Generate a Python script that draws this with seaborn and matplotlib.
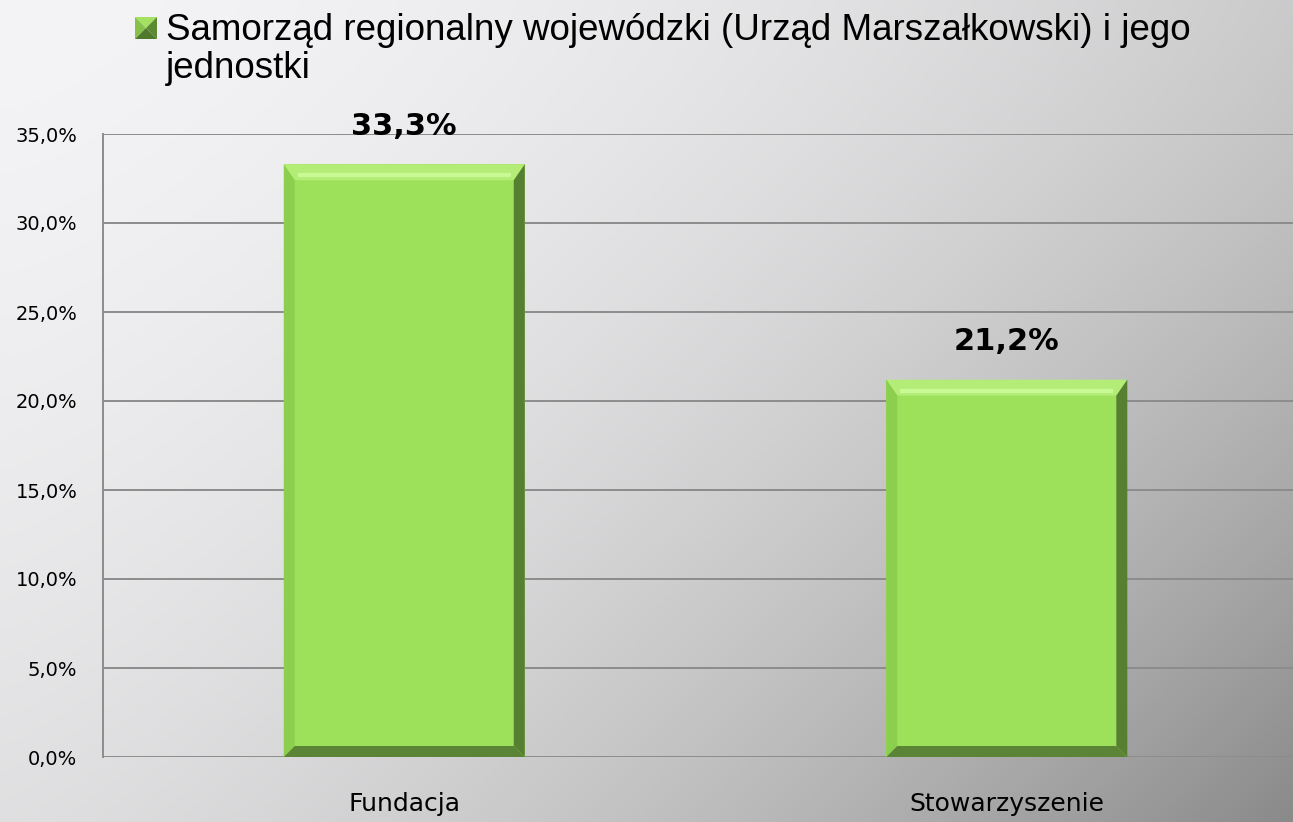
import numpy as np
import pandas as pd
import seaborn as sns
import matplotlib.pyplot as plt
from matplotlib.patches import Polygon
from matplotlib.ticker import FuncFormatter

categories = ['Fundacja', 'Stowarzyszenie']
values = [33.3, 21.2]
legend_label = 'Samorząd regionalny wojewódzki (Urząd Marszałkowski) i jego\njednostki'

df = pd.DataFrame({'typ': categories, 'udzial': values})

sns.set_style('white')
plt.rcParams['font.family'] = ['DejaVu Sans']

W, H = 1293, 822
fig = plt.figure(figsize=(W / 100, H / 100), dpi=100)

# gradient background: light top-left, grey towards bottom-right
bg = fig.add_axes([0, 0, 1, 1], zorder=-10)
xx, yy = np.meshgrid(np.linspace(0, 1, 500), np.linspace(0, 1, 320))
f = 0.40 * xx ** 1.8 + 0.20 * yy ** 1.5 + 0.42 * (xx * yy) ** 1.2
shade = (244 - 104 * f) / 255
bg.imshow(np.dstack([shade, shade, shade + 2 / 255 * (1 - f)]).clip(0, 1),
          aspect='auto', extent=[0, 1, 0, 1], origin='upper')
bg.axis('off')

ax = fig.add_axes([103 / W, 65 / H, (W - 103) / W, 623 / H])
ax.patch.set_alpha(0)
sns.barplot(data=df, x='typ', y='udzial', color='#9de05a', width=0.4,
            saturation=1, linewidth=0, edgecolor='none', ax=ax, zorder=3)

ax.set_ylim(0, 35)
ax.set_xlim(-0.5, 1.475)
ax.set_yticks(np.arange(0, 36, 5))
ax.yaxis.set_major_formatter(FuncFormatter(lambda v, p: f'{v:.1f}%'.replace('.', ',')))
ax.grid(axis='y', color='#8c8c8c', linewidth=1.4, zorder=0)
ax.set_axisbelow(True)
for s in ['top', 'right', 'bottom']:
    ax.spines[s].set_visible(False)
ax.spines['left'].set_color('#8c8c8c')
ax.spines['left'].set_linewidth(1.4)
ax.tick_params(axis='y', length=6.5, width=1.4, color='#8c8c8c', labelsize=14,
               pad=12, labelcolor='black')
ax.tick_params(axis='x', length=0, labelsize=18, pad=25, labelcolor='black')
ax.set_xticks([-0.5, 0.5], minor=True)
ax.tick_params(axis='x', which='minor', length=8, width=1.4, color='#8c8c8c')
ax.set_xlabel('')
ax.set_ylabel('')

# bevel effect on the bars
fig.canvas.draw()
inv = ax.transData.inverted()
for bar, v in zip(ax.patches, values):
    x0, y0 = ax.transData.transform((bar.get_x(), 0))
    x1, y1 = ax.transData.transform((bar.get_x() + bar.get_width(), bar.get_height()))
    s, t = 11, 16
    faces = [
        ([(x0, y1), (x1, y1), (x1 - s, y1 - t), (x0 + s, y1 - t)], '#b4ec78'),
        ([(x0, y0), (x0, y1), (x0 + s, y1 - t), (x0 + s, y0 + s)], '#8ccf4f'),
        ([(x1, y0), (x1, y1), (x1 - s, y1 - t), (x1 - s, y0 + s)], '#567f31'),
        ([(x0, y0), (x1, y0), (x1 - s, y0 + s), (x0 + s, y0 + s)], '#5b8436'),
    ]
    for pts, c in faces:
        ax.add_patch(Polygon(inv.transform(pts), closed=True, facecolor=c,
                             edgecolor='none', zorder=4))
    hl = inv.transform([(x0 + s + 3, y1 - t + 5), (x1 - s - 3, y1 - t + 5)])
    ax.plot(hl[:, 0], hl[:, 1], color='#c9f993', lw=3, zorder=5, solid_capstyle='butt')
    ax.text(bar.get_x() + bar.get_width() / 2, v + 1.3, f'{v:.1f}%'.replace('.', ','),
            ha='center', va='bottom', fontsize=22, fontweight='bold', color='black')

# legend entry at the top: bevelled green square + label
lx0, lx1, ly0, ly1 = 135, 157, 17, 39
cx, cy = (lx0 + lx1) / 2, (ly0 + ly1) / 2
tri = [
    ([(lx0, ly0), (lx1, ly0), (cx, cy)], '#a4e062'),
    ([(lx0, ly0), (lx0, ly1), (cx, cy)], '#86c24a'),
    ([(lx1, ly0), (lx1, ly1), (cx, cy)], '#5c8a33'),
    ([(lx0, ly1), (lx1, ly1), (cx, cy)], '#4f7a2c'),
]
for pts, c in tri:
    fig.patches.append(Polygon([(px / W, 1 - py / H) for px, py in pts], closed=True,
                               transform=fig.transFigure, facecolor=c, edgecolor='none'))
fig.text(166 / W, 1 - 13 / H, legend_label, ha='left', va='top', fontsize=26.5,
         family=['Liberation Sans', 'DejaVu Sans'], linespacing=1.12, color='black')

fig.savefig('out.png', dpi=100)
